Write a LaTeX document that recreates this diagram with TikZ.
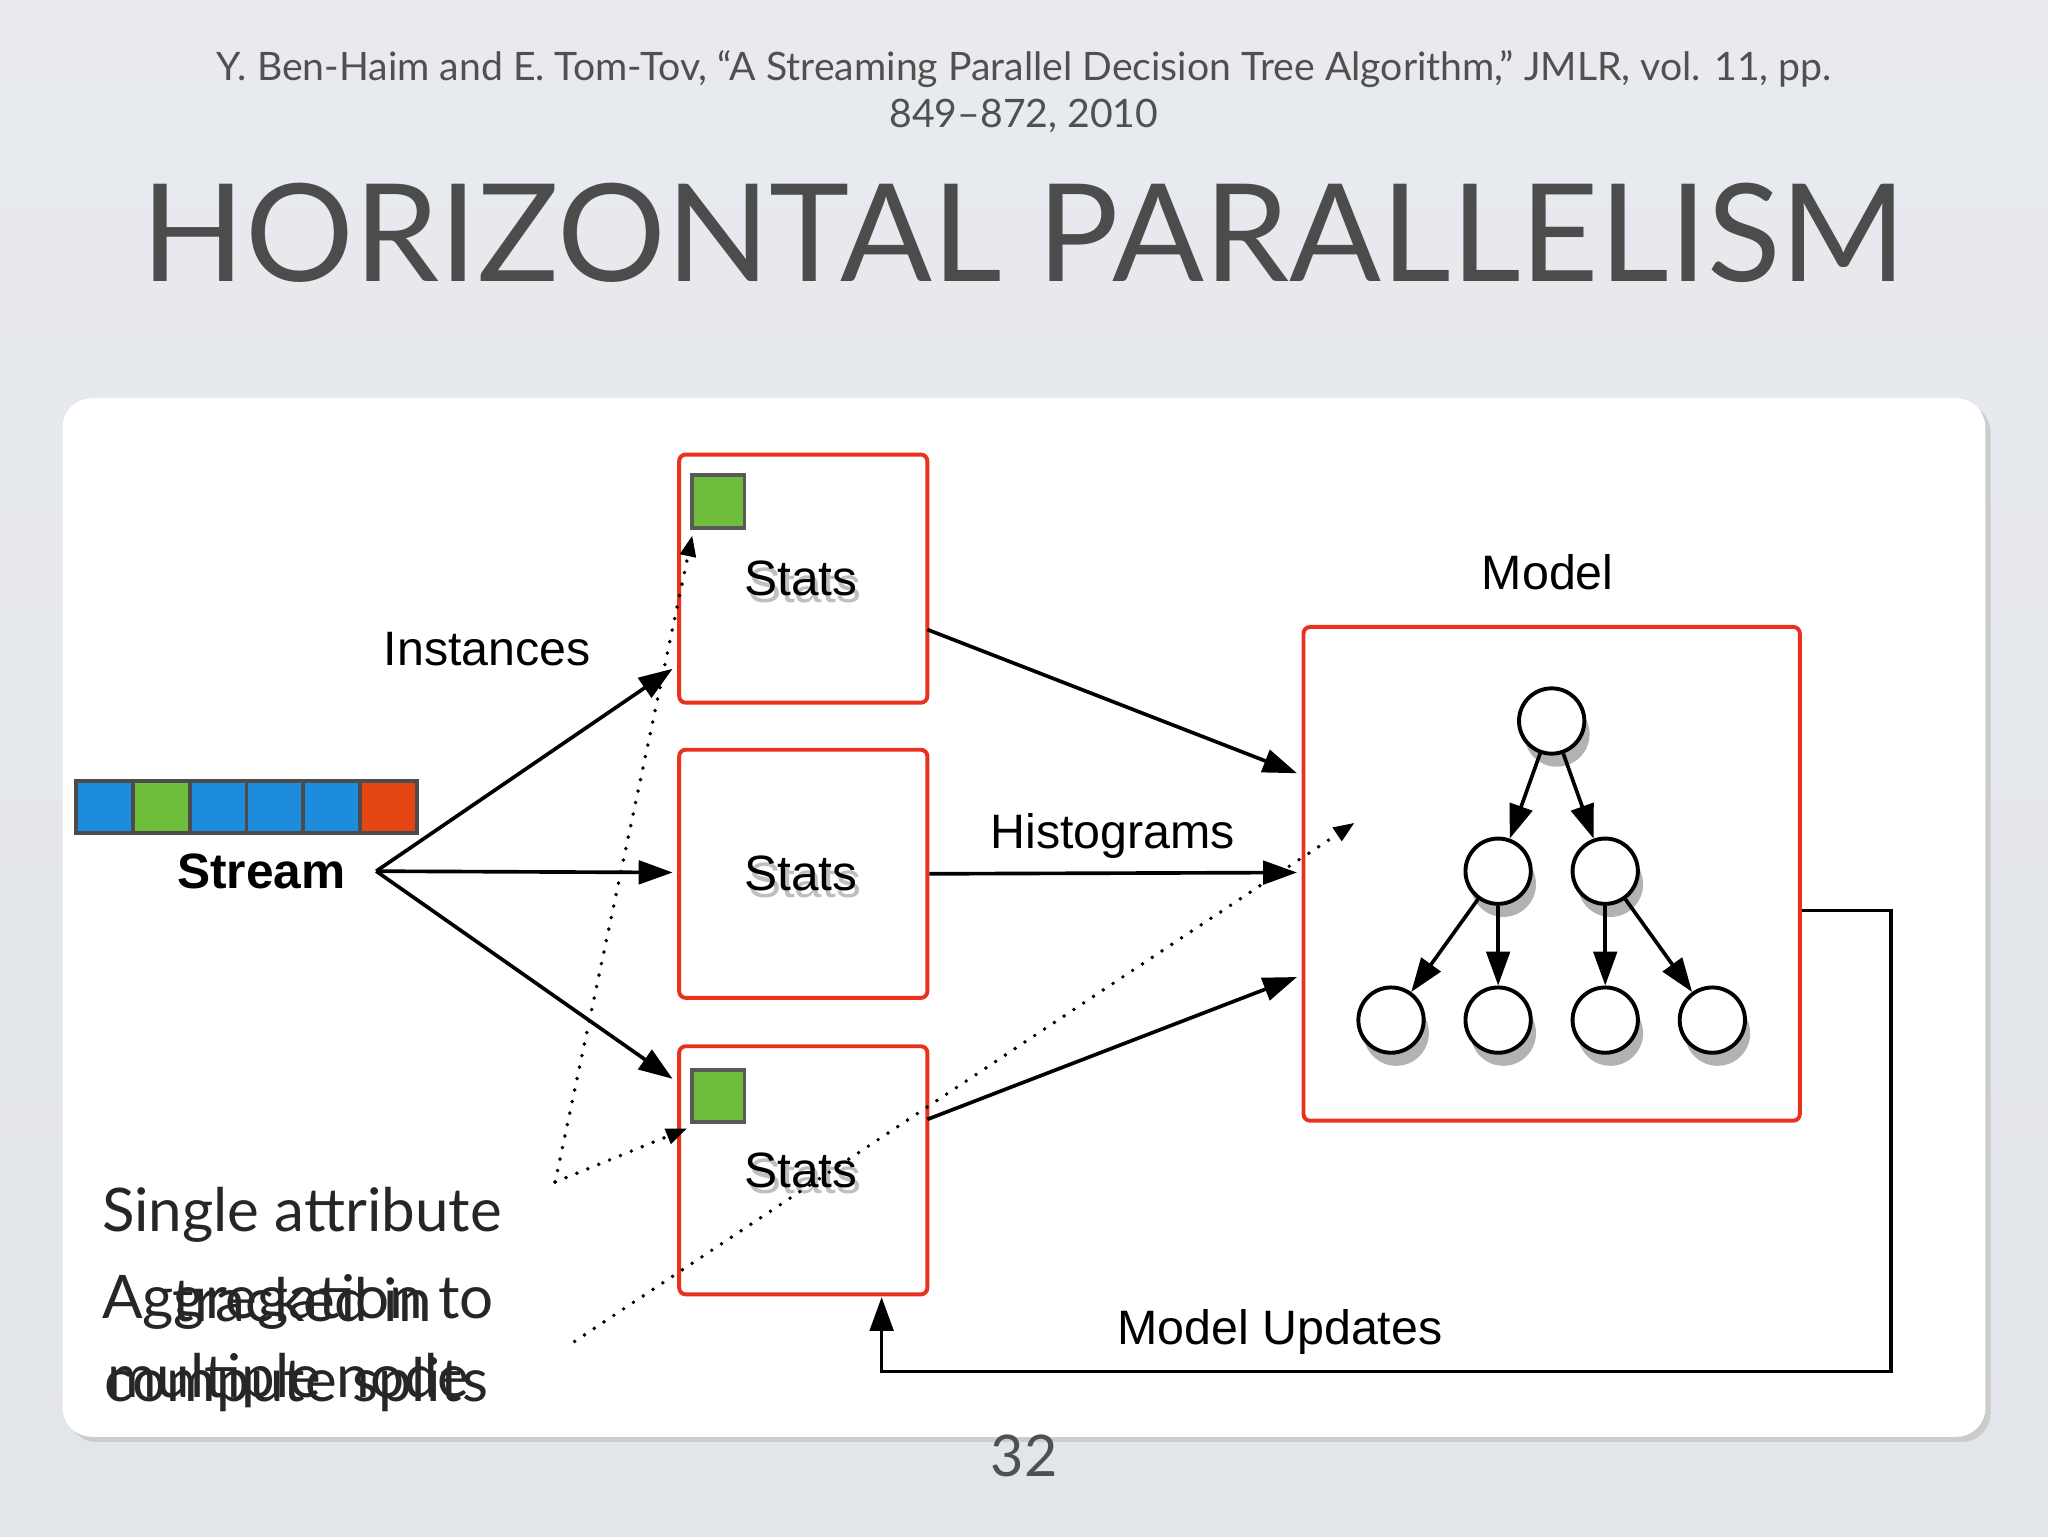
\documentclass[tikz,border=0pt]{standalone}
\usepackage{fontspec}
\setmainfont{Liberation Sans}
\newfontfamily\gill{Lato}
\usetikzlibrary{arrows.meta}
\definecolor{bgc}{RGB}{226,229,234}
\definecolor{redb}{RGB}{232,50,30}
\definecolor{sq}{RGB}{30,140,220}
\definecolor{gq}{RGB}{110,190,60}
\definecolor{oq}{RGB}{230,70,20}
\definecolor{tgray}{RGB}{80,80,80}
\tikzset{
 statbox/.style={draw=redb,line width=3pt,rounded corners=5pt,fill=white,minimum width=190pt,minimum height=190pt},
 lbl/.style={font=\fontsize{38}{40}\selectfont,inner sep=0},
 arr/.style={line width=2.8pt,-{Triangle[length=26pt,width=18pt]}},
 dotarr/.style={line width=3pt,line cap=round,dash pattern=on 0pt off 9pt,-{Triangle[length=16pt,width=12pt]}},
 tnode/.style={circle,draw,line width=3pt,fill=white,minimum size=50pt,inner sep=0},
 tsh/.style={circle,fill=gray!60,minimum size=50pt,inner sep=0},
 sqs/.style={draw=gray!70!black,line width=3pt,minimum size=40pt,inner sep=0},
 gt/.style={font=\gill\fontsize{46}{48}\selectfont,text=black!85,inner sep=0,anchor=west}
}
\begin{document}
\begin{tikzpicture}[x=1pt,y=-1pt]
\useasboundingbox (0,0) rectangle (1568,1176);
\shade[top color=bgc!80,bottom color=bgc] (0,0) rectangle (1568,1176);
\fill[gray!40,rounded corners=22pt] (52,309) rectangle (1524,1104);
\fill[white,rounded corners=22pt] (48,305) rectangle (1520,1100);
\node[font=\gill\fontsize{30}{36}\selectfont,text=tgray,align=center] (cit) at (784,70) {Y. Ben-Haim and E. Tom-Tov, “A Streaming Parallel Decision Tree Algorithm,” JMLR, vol. 11, pp.\\849–872, 2010};
\node[font=\gill\fontsize{104}{104}\selectfont,text=black!70] (title) at (784,178) {HORIZONTAL PARALLELISM};
\node[font=\gill\fontsize{44}{44}\selectfont,text=tgray] (pg) at (784,1115) {32};
% stats
\node[statbox] (s1) at (615,443) {};
\node[statbox] (s2) at (615,669) {};
\node[statbox] (s3) at (615,896) {};
\foreach \n/\y/\yy in {s1/443/448,s2/669/674,s3/896/901}{
 \node[lbl,text=gray!50] at (616,\yy) {Stats};
 \node[lbl] at (613,\y) {Stats};}
\node[sqs,fill=gq] (g1) at (550,384) {};
\node[sqs,fill=gq] (g2) at (550,839) {};
% model
\node[draw=redb,line width=3pt,rounded corners=5pt,minimum width=380pt,minimum height=378pt] (m) at (1188,669) {};
\node[lbl,font=\fontsize{37}{38}\selectfont] (ml) at (1185,438) {Model};
\foreach \n/\x/\y in {r/1188/552,a/1147/667,b/1229/667,c/1065/781,d/1147/781,e/1229/781,f/1311/781}{
 \node[tsh] at ([shift={(4,10)}]\x,\y) {};
 \node[tnode] (\n) at (\x,\y) {};}
\foreach \u/\v in {r/a,r/b,a/c,a/d,b/e,b/f} \draw[arr] (\u) -- (\v);
% stream
\foreach \i/\c in {0/sq,1/gq,2/sq,3/sq,4/sq,5/oq}
 \node[draw=gray!60!black,line width=3pt,fill=\c,minimum width=43.5pt,minimum height=40pt,inner sep=0] (q\i) at (80+\i*43.5,618) {};
\node[font=\bfseries\fontsize{38}{40}\selectfont] (st) at (200,667) {Stream};
\coordinate (sp) at (288,667);
\draw[arr] (sp) -- (515,512);
\draw[arr] (sp) -- (515,668);
\draw[arr] (sp) -- (515,826);
\node[lbl,font=\fontsize{37}{38}\selectfont] (inst) at (373,497) {Instances};
\draw[arr] (710,482) -- (993,592);
\draw[arr] (s2.east) -- (993,668);
\node[lbl,font=\fontsize{37}{38}\selectfont] (hist) at (852,640) {Histograms};
\draw[arr] (710,857) -- (993,748);
\coordinate (u1) at (1448,697); \coordinate (u2) at (1448,1050); \coordinate (u3) at (675,1050);
\draw[arr] (m.east|-u1) -- (u1) -- (u2) -- (u3) -- (675,993);
\node[lbl,font=\fontsize{37}{38}\selectfont] (mu) at (980,1020) {Model Updates};
% dotted
\coordinate (d1) at (425,905); \coordinate (d2) at (440,1027);
\draw[dotarr] (d1) -- (530,410);
\draw[dotarr] (d1) -- (526,864);
\draw[dotarr] (d2) -- (1037,630);
\node[gt] (t1) at (78,930) {Single attribute};
\node[gt] (t2) at (132,995) {tracked in};
\node[gt] (t3) at (82,1057) {multiple node};
\node[gt] (t4) at (78,997) {Aggregation to};
\node[gt] (t5) at (80,1060) {compute splits};
\end{tikzpicture}
\end{document}
